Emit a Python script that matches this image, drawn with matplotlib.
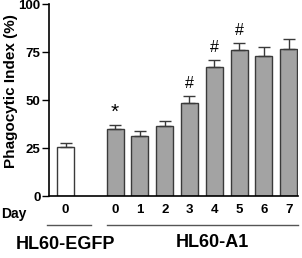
import matplotlib
matplotlib.use("Agg")
import matplotlib.pyplot as plt
import numpy as np

# data
egfp_day = ["0"]
egfp_mean = [25.5]
egfp_err = [2.2]

a1_days = ["0", "1", "2", "3", "4", "5", "6", "7"]
a1_mean = [34.8, 31.4, 36.5, 48.3, 67.0, 75.9, 72.9, 76.7]
a1_err = [2.3, 2.5, 2.5, 3.6, 3.7, 3.6, 5.0, 4.9]
a1_marks = ["*", "", "", "#", "#", "#", "", ""]

plt.rcParams["font.family"] = ["Liberation Sans", "DejaVu Sans"]
plt.rcParams["font.weight"] = "bold"

fig = plt.figure(figsize=(3.02, 2.58), dpi=100)
ax = fig.add_axes([0.162, 0.240, 0.825, 0.744])

x_egfp = np.arange(len(egfp_mean))
x_a1 = np.arange(len(a1_mean)) + len(egfp_mean) + 1
w = 0.68
edge = "#3a3a3a"
err_kw = dict(ecolor=edge, elinewidth=1.0, capsize=4, capthick=1.0)

ax.bar(x_egfp, egfp_mean, w, color="white", edgecolor=edge, linewidth=1.0,
       yerr=[np.zeros(len(egfp_err)), egfp_err], error_kw=err_kw)
ax.bar(x_a1, a1_mean, w, color="#a3a3a3", edgecolor=edge, linewidth=1.0,
       yerr=[np.zeros(len(a1_err)), a1_err], error_kw=err_kw)

for xi, m, e, s in zip(x_a1, a1_mean, a1_err, a1_marks):
    if s == "*":
        ax.text(xi, m + e + 1.5, s, ha="center", va="bottom", fontsize=15,
                fontweight="normal")
    elif s:
        ax.text(xi, m + e + 3, s, ha="center", va="bottom", fontsize=11.5,
                fontweight="normal")

ax.set_xlim(-0.67, x_a1[-1] + 0.38)
ax.set_ylim(0, 100)
ax.set_yticks([0, 25, 50, 75, 100])
ax.set_xticks(np.concatenate([x_egfp, x_a1]))
ax.set_xticklabels(egfp_day + a1_days)
ax.tick_params(axis="x", length=0, pad=6, labelsize=9.5)
ax.tick_params(axis="y", length=5, width=1.0, labelsize=9.5, pad=1)
for lbl in ax.get_xticklabels() + ax.get_yticklabels():
    lbl.set_fontweight("bold")

for side in ["top", "right"]:
    ax.spines[side].set_visible(False)
for side in ["left", "bottom"]:
    ax.spines[side].set_linewidth(1.2)

ax.set_ylabel("Phagocytic Index (%)", fontsize=11, fontweight="bold")
ax.yaxis.set_label_coords(-0.125, 0.545)

tr = ax.get_xaxis_transform()
fig.text(0.003, 0.17, "Day", ha="left", va="center", fontsize=10, fontweight="bold")

# group underlines and names
ax.plot([x_egfp[0] - 0.75, x_egfp[-1] + 1.03], [-0.151, -0.151], transform=tr,
        color="#555555", lw=1.0, clip_on=False)
ax.plot([x_a1[0] - 0.32, x_a1[-1] + 0.38], [-0.151, -0.151], transform=tr,
        color="#555555", lw=1.0, clip_on=False)
ax.text(x_egfp.mean(), -0.25, "HL60-EGFP", transform=tr, ha="center", va="center",
        fontsize=13, fontweight="bold")
ax.text(x_a1.mean() + 0.43, -0.24, "HL60-A1", transform=tr, ha="center", va="center",
        fontsize=13, fontweight="bold")

fig.savefig("out.png", dpi=100)
plt.close(fig)
